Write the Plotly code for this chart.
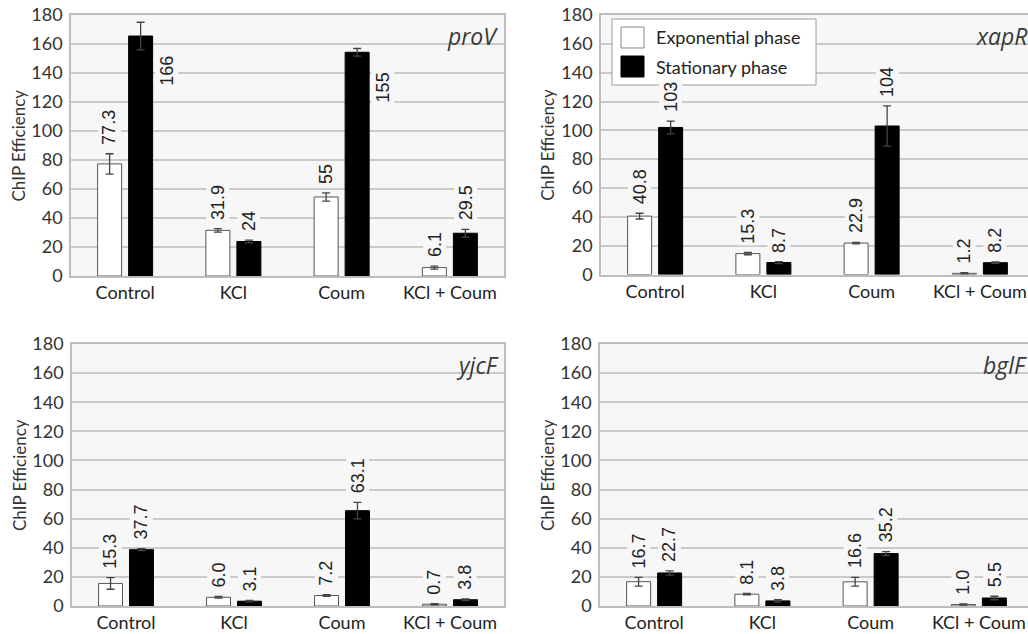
import plotly.graph_objects as go

categories = ["Control", "KCl", "Coum", "KCl + Coum"]
series_names = ["Exponential phase", "Stationary phase"]
genes = ["proV", "xapR", "yjcF", "bglF"]

# bar heights
provV_exp = [77.3, 31.5, 54.5, 5.8]
provV_sta = [165.5, 23.8, 154.3, 29.5]
xapR_exp = [40.5, 14.5, 21.8, 0.8]
xapR_sta = [102.0, 8.3, 103.0, 8.2]
yjcF_exp = [15.5, 6.0, 7.2, 1.2]
yjcF_sta = [38.7, 3.3, 65.5, 4.3]
bglF_exp = [16.7, 8.1, 16.6, 1.0]
bglF_sta = [22.7, 3.5, 36.0, 5.5]

# error bars (symmetric)
provV_exp_err = [7.0, 1.2, 2.8, 1.0]
provV_sta_err = [9.5, 1.0, 2.6, 2.7]
xapR_exp_err = [2.0, 0.8, 0.5, 0.5]
xapR_sta_err = [4.4, 0.7, 14.0, 0.5]
yjcF_exp_err = [4.0, 0.6, 0.6, 0.4]
yjcF_sta_err = [0.7, 0.5, 5.7, 0.6]
bglF_exp_err = [3.0, 0.5, 3.0, 0.4]
bglF_sta_err = [1.5, 0.8, 1.3, 1.2]

# printed value labels
provV_exp_lbl = ["77.3", "31.9", "55", "6.1"]
provV_sta_lbl = ["166", "24", "155", "29.5"]
xapR_exp_lbl = ["40.8", "15.3", "22.9", "1.2"]
xapR_sta_lbl = ["103", "8.7", "104", "8.2"]
yjcF_exp_lbl = ["15.3", "6.0", "7.2", "0.7"]
yjcF_sta_lbl = ["37.7", "3.1", "63.1", "3.8"]
bglF_exp_lbl = ["16.7", "8.1", "16.6", "1.0"]
bglF_sta_lbl = ["22.7", "3.8", "35.2", "5.5"]

y_ticks = [0, 20, 40, 60, 80, 100, 120, 140, 160, 180]

W, H = 1028, 634
PLOT_BG = "#f7f7f7"
GRID = "#cacaca"
FRAME = "#bdbdbd"
TXT = "#333333"
YTICK_FONT = dict(family="Lato", size=18, color=TXT)
XTICK_FONT = dict(family="Lato", size=18, color="#222222")
LBL_FONT = dict(family="Liberation Sans", size=18, color="#222222")


def fx(px):
    return px / W


def fy(py):
    return 1 - py / H


CAT_PX = 108.25
PANEL_PX = 4 * CAT_PX

panels = [
    dict(gene=genes[0], exp=provV_exp, sta=provV_sta, ee=provV_exp_err, se=provV_sta_err,
         el=provV_exp_lbl, sl=provV_sta_lbl, px=(71, 504), py=(15, 276), clip=False),
    dict(gene=genes[1], exp=xapR_exp, sta=xapR_sta, ee=xapR_exp_err, se=xapR_sta_err,
         el=xapR_exp_lbl, sl=xapR_sta_lbl, px=(601, 1028), py=(15, 274.5), clip=True),
    dict(gene=genes[2], exp=yjcF_exp, sta=yjcF_sta, ee=yjcF_exp_err, se=yjcF_sta_err,
         el=yjcF_exp_lbl, sl=yjcF_sta_lbl, px=(72, 504), py=(344, 606), clip=False),
    dict(gene=genes[3], exp=bglF_exp, sta=bglF_sta, ee=bglF_exp_err, se=bglF_sta_err,
         el=bglF_exp_lbl, sl=bglF_sta_lbl, px=(600, 1028), py=(344, 606), clip=True),
]

BARGAP = 0.427
OFF = (1 - BARGAP) / 4          # slot centre offset in category units
HALFW = OFF * (1 - 0.226)       # half bar width in category units

fig = go.Figure()
annotations = []
shapes = []

for i, p in enumerate(panels):
    n = "" if i == 0 else str(i + 1)
    xa, ya = "x" + n, "y" + n
    x0, x1 = p["px"]
    y0, y1 = p["py"]
    dom_x = [fx(x0), min(fx(x1), 1.0)]
    dom_y = [fy(y1), fy(y0)]
    xmax = -0.5 + (x1 - x0) / CAT_PX if p["clip"] else 3.5
    ppu = (y1 - y0) / 180.0

    for vals, errs, color, line, name in [
        (p["exp"], p["ee"], "#ffffff", "#555555", series_names[0]),
        (p["sta"], p["se"], "#000000", "#000000", series_names[1]),
    ]:
        fig.add_trace(go.Bar(
            x=list(range(len(categories))), y=vals, name=name, xaxis=xa, yaxis=ya,
            marker=dict(color=color, line=dict(color=line, width=1)),
            error_y=dict(type="data", array=errs, visible=True, color="#444444",
                         thickness=1.3, width=4),
            showlegend=False,
        ))

    ax = dict(domain=dom_x, anchor=ya, range=[-0.5, xmax], tickmode="array",
              tickvals=list(range(len(categories))), ticktext=categories,
              tickfont=XTICK_FONT, showgrid=False, zeroline=False,
              showline=True, linecolor=FRAME, linewidth=1.5, mirror=True,
              ticks="", ticklabelstandoff=0, automargin=False,
              ticklabeloverflow="allow")
    ay = dict(domain=dom_y, anchor=xa, range=[0, 180], tickmode="array",
              tickvals=y_ticks, tickfont=YTICK_FONT, showgrid=True,
              gridcolor=GRID, gridwidth=2, zeroline=False, showline=True,
              linecolor=FRAME, linewidth=1.5, mirror=not p["clip"], ticks="",
              ticklabelstandoff=3, automargin=False, ticklabeloverflow="allow")
    fig.layout["xaxis" + n] = ax
    fig.layout["yaxis" + n] = ay

    # y axis title
    annotations.append(dict(
        text="ChIP Efficiency", xref="paper", yref="paper",
        x=fx(x0 - 53), y=fy((y0 + y1) / 2), textangle=-90,
        showarrow=False, xanchor="center", yanchor="middle",
        font=dict(family="Lato", size=17, color=TXT)))
    # gene name (right-aligned to the full, possibly clipped, plot width)
    annotations.append(dict(
        text="<i>" + p["gene"] + "</i>", xref="paper", yref="paper",
        x=fx(x0 + PANEL_PX - 4), y=fy(y0 + 3), showarrow=False,
        xanchor="right", yanchor="top",
        font=dict(family="Open Sans", size=23, color="#3a3a3a")))

    # value labels
    for vals, errs, lbls, sgn in [(p["exp"], p["ee"], p["el"], -1),
                                  (p["sta"], p["se"], p["sl"], 1)]:
        for k, (v, e, t) in enumerate(zip(vals, errs, lbls)):
            top = v + e
            est_len = (len(t) * 10 + 8) / ppu
            if top + est_len > 175:
                annotations.append(dict(
                    text=t, x=k + sgn * OFF + HALFW, y=v, xref=xa, yref=ya,
                    textangle=-90, showarrow=False, xanchor="left", yanchor="top",
                    xshift=2, yshift=-18, font=LBL_FONT, bgcolor=PLOT_BG,
                    borderpad=1))
            else:
                annotations.append(dict(
                    text=t, x=k + sgn * OFF, y=top, xref=xa, yref=ya,
                    textangle=-90, showarrow=False, xanchor="center",
                    yanchor="bottom", yshift=7, font=LBL_FONT, bgcolor=PLOT_BG,
                    borderpad=1))

# legend (drawn inside the xapR panel)
lx0, lx1, ly0, ly1 = 612, 816, 19, 85
shapes.append(dict(type="rect", xref="paper", yref="paper", x0=fx(lx0), x1=fx(lx1),
                   y0=fy(ly1), y1=fy(ly0), fillcolor="#ffffff",
                   line=dict(color="#9a9a9a", width=1), layer="above"))
for j, (fc, lc) in enumerate([("#ffffff", "#888888"), ("#000000", "#000000")]):
    cy = 37.5 + j * 29
    shapes.append(dict(type="rect", xref="paper", yref="paper", x0=fx(621), x1=fx(644),
                       y0=fy(cy + 10.5), y1=fy(cy - 10.5), fillcolor=fc,
                       line=dict(color=lc, width=1), layer="above"))
    annotations.append(dict(text=series_names[j], xref="paper", yref="paper",
                            x=fx(654), y=fy(cy), xanchor="left", yanchor="middle",
                            showarrow=False, font=dict(family="Lato", size=18, color="#222222")))

fig.update_layout(
    width=W, height=H, margin=dict(l=0, r=0, t=0, b=0),
    paper_bgcolor="#ffffff", plot_bgcolor=PLOT_BG,
    barmode="group", bargap=BARGAP, bargroupgap=0.226,
    annotations=annotations, shapes=shapes, showlegend=False,
)

# remove the browser's default 8px body margin so the figure fills the window
fig.write_html("out.html", config={"displayModeBar": False},
               post_script="document.body.style.margin='0px';")
